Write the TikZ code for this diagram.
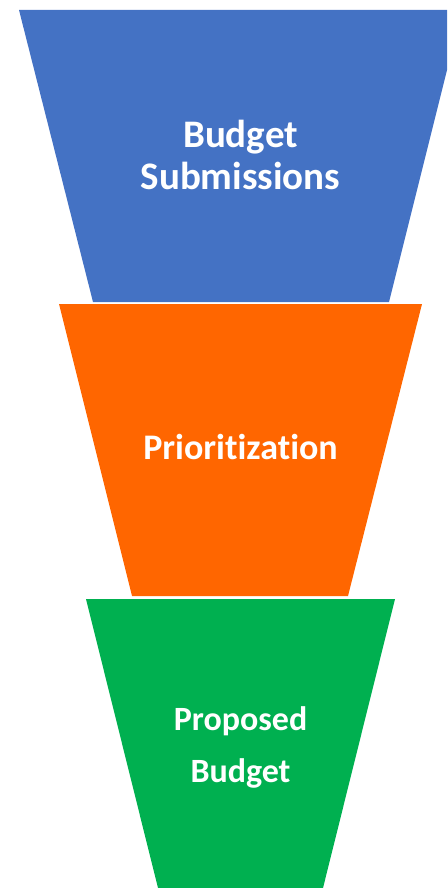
\documentclass[tikz,border=0pt]{standalone}
\usepackage{fontspec}
\setmainfont{Carlito}[Ligatures={NoCommon}]
\usetikzlibrary{positioning}
\definecolor{stageblue}{HTML}{4472C4}
\definecolor{stageorange}{HTML}{FF6600}
\definecolor{stagegreen}{HTML}{00B050}
\tikzstyle{stage} = [draw=none]
\tikzstyle{label} = [text=white,font=\bfseries\fontsize{39}{44}\selectfont,inner sep=0,anchor=base]
\def \cx {240.5}
\begin{document}
\begin{tikzpicture}[x=1pt,y=-1pt]
      \clip (0,0) rectangle (447,888);
      % funnel stages
      \fill[stage,stageblue] (19,10) -- (462,10) -- (389,302) -- (93,302) -- cycle;
      \fill[stage,stageorange] (59,304) -- (422,304) -- (348,596) -- (132,596) -- cycle;
      \fill[stage,stagegreen] (86,599) -- (395,599) -- (323,888) -- (158,888) -- cycle;
      % labels
      \node[label] (sub1) at (\cx,147) {Budget};
      \node[label] (sub2) at (\cx,189) {Submissions};
      \node[label,font=\bfseries\fontsize{36}{42}\selectfont] (prio) at (\cx,459) {Prioritization};
      \node[label,font=\bfseries\fontsize{34}{40}\selectfont] (prop1) at (\cx,730) {Proposed};
      \node[label,font=\bfseries\fontsize{34}{40}\selectfont] (prop2) at (\cx,782) {Budget};
    \end{tikzpicture}
\end{document}
